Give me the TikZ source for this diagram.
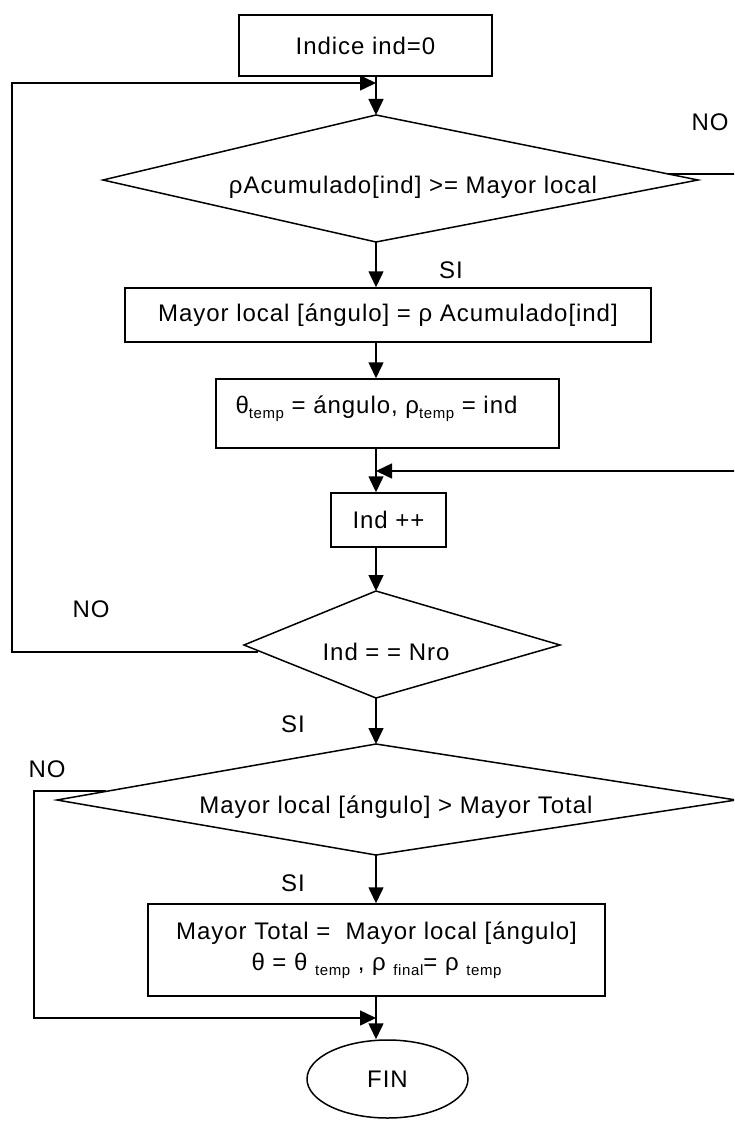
\documentclass[tikz,border=0pt]{standalone}
\usepackage{fontspec}
\setmainfont{Liberation Sans}[LetterSpace=4]
\usetikzlibrary{arrows.meta,shapes.geometric}

% lowered small text used for the subscripts
\newcommand{\lowtxt}[1]{\raisebox{-5pt}{\fontsize{15}{15}\selectfont #1}}

\begin{document}
\begin{tikzpicture}[x=1pt,y=-1pt,line width=1.5pt,
  txt/.style={font=\fontsize{24}{29}\selectfont},
  box/.style={draw,rectangle,inner sep=0pt,txt},
  lbl/.style={txt,inner sep=0pt},
  flow/.style={-{Triangle[length=16pt,width=15pt]}}]
\useasboundingbox (0,0) rectangle (734,1121);
\clip (0,0) rectangle (734,1121);

% process boxes
\node[box,minimum width=253pt,minimum height=61pt] (init) at (365.5,45.5) {Indice ind=0};
\node[box,minimum width=526pt,minimum height=54pt] (setmax) at (388,315)
  {Mayor local [ángulo] = ρ Acumulado[ind]};
\node[box,minimum width=343pt,minimum height=69pt,
  label={[txt,inner sep=0pt,xshift=-11pt,yshift=5pt]center:θ\lowtxt{temp} = ángulo, ρ\lowtxt{temp} = ind}]
  (temp) at (387.5,413.5) {};
\node[box,minimum width=115pt,minimum height=54pt] (incr) at (388.5,520) {Ind ++};
\node[box,minimum width=457pt,minimum height=92pt,align=center] (upd) at (376.5,950)
  {Mayor Total =\ \ Mayor local [ángulo]\\[2pt]
   θ = θ \lowtxt{temp} , ρ \lowtxt{final}= ρ \lowtxt{temp}};
\node[draw,ellipse,minimum width=161pt,minimum height=78pt,txt,inner sep=0pt] (fin) at (387.5,1079) {FIN};

% decision 1
\coordinate (d1t) at (376,115);
\coordinate (d1r) at (698,180);
\coordinate (d1b) at (376,242);
\coordinate (d1l) at (103,180);
\draw (d1t) -- (d1r) -- (d1b) -- (d1l) -- cycle;
\node[lbl] (cond1) at (413,187) {ρAcumulado[ind] >= Mayor local};

% decision 2
\coordinate (d2t) at (376,591);
\coordinate (d2r) at (560,645);
\coordinate (d2b) at (376,698);
\coordinate (d2l) at (244,645);
\draw (d2t) -- (d2r) -- (d2b) -- (d2l) -- cycle;
\node[lbl] (cond2) at (386,652) {Ind = = Nro};

% decision 3
\coordinate (d3t) at (376,744);
\coordinate (d3r) at (736,800);
\coordinate (d3b) at (376,855);
\coordinate (d3l) at (57,800);
\draw (d3t) -- (d3r) -- (d3b) -- (d3l) -- cycle;
\node[lbl] (cond3) at (396,807) {Mayor local [ángulo] > Mayor Total};

% branch labels
\node[lbl] (no1) at (710,122) {NO};
\node[lbl] (si1) at (451,270) {SI};
\node[lbl] (no2) at (91,609) {NO};
\node[lbl] (si2) at (293,724) {SI};
\node[lbl] (no3) at (47,769) {NO};
\node[lbl] (si3) at (293,883) {SI};

% junctions on the main line
\coordinate (join1) at (376,83);
\coordinate (join2) at (376,471);
\coordinate (join3) at (376,1018);
\coordinate (d1no) at (668,174);
\coordinate (d2no) at (258,652);
\coordinate (d3no) at (106,791);

% main flow
\draw[flow] (init.south -| d1t) -- (d1t);
\draw[flow] (d1b) -- (d1b |- setmax.north);
\draw[flow] (setmax.south -| d1b) -- (temp.north -| d1b);
\draw[flow] (temp.south -| d1b) -- (incr.north -| d1b);
\draw[flow] (incr.south -| d2t) -- (d2t);
\draw[flow] (d2b) -- (d3t);
\draw[flow] (d3b) -- (upd.north -| d3b);
\draw[flow] (upd.south -| d3t) -- (fin.north -| d3t);

% loops and exits
\draw[flow] (d1no) -- (760,174) -- (760,471) -- (join2);
\draw[flow] (d2no) -- (12,652) -- (12,83) -- (join1);
\draw[flow] (d3no) -- (34,791) -- (34,1018) -- (join3);
\end{tikzpicture}
\end{document}
